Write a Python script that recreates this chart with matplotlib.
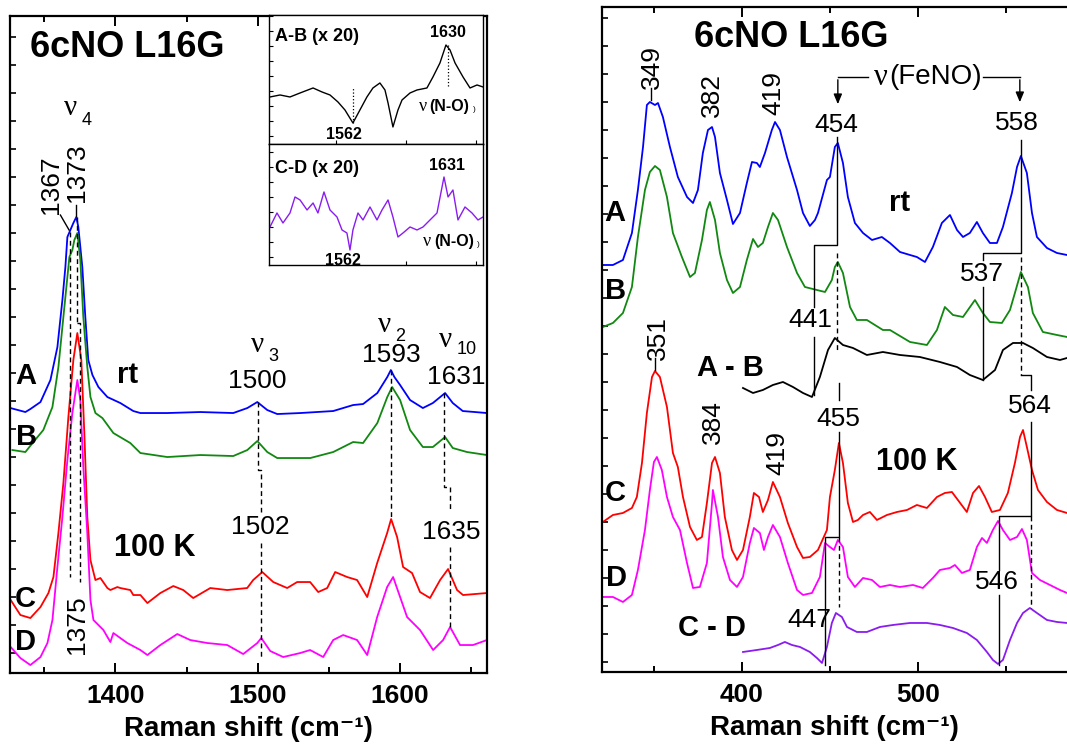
import matplotlib
matplotlib.use("Agg")
import matplotlib.pyplot as plt

plt.rcParams["font.family"] = ["Liberation Sans", "DejaVu Sans"]

BLUE, GREEN, RED, MAG, PURP = "#0000ff", "#118811", "#ff0000", "#ff00ff", "#8a1cf0"
SERIF = ["Liberation Serif", "DejaVu Serif"]

# ── left panel : high frequency region (cm-1 / intensity a.u.) ─────────────
hfA_x = [1326.3, 1336.8, 1340.3, 1347.4, 1354.4, 1359.3, 1362.8, 1364.9, 1366.3, 1368.4,
         1370.5, 1372.6, 1374.0, 1376.8, 1378.9, 1381.0, 1383.9, 1388.1, 1394.4, 1403.5,
         1412.6, 1417.6, 1436.5, 1459.7, 1482.8, 1492.7, 1499.7, 1506.7, 1513.7, 1529.9,
         1553.0, 1567.0, 1574.0, 1584.0, 1591.0, 1593.5, 1596.0, 1600.0, 1607.0, 1616.0,
         1623.0, 1631.6, 1637.0, 1644.0, 1661.0]
hfA_y = [265, 261, 264, 271, 293, 326, 373, 406, 436, 443,
         450, 456, 446, 406, 356, 313, 298, 286, 276, 270,
         262, 260, 260, 261, 260, 265, 271, 263, 259, 260,
         262, 268, 269, 280, 296, 303, 296, 288, 273, 265,
         270, 280, 270, 262, 260]

hfB_x = [1327.7, 1336.8, 1342.4, 1349.4, 1355.8, 1360.0, 1363.5, 1366.3, 1367.7, 1369.8,
         1371.2, 1373.3, 1375.4, 1377.5, 1380.3, 1382.5, 1386.0, 1390.9, 1398.6, 1410.5,
         1417.6, 1436.5, 1459.7, 1482.8, 1492.7, 1499.7, 1506.7, 1513.7, 1536.9, 1553.0,
         1567.0, 1574.0, 1584.0, 1591.0, 1594.4, 1600.0, 1607.0, 1616.0, 1623.0, 1631.6,
         1637.0, 1647.0, 1661.0]
hfB_y = [223, 221, 231, 243, 266, 306, 356, 396, 416, 423,
         433, 440, 413, 356, 306, 276, 260, 255, 240, 230,
         220, 216, 218, 217, 223, 232, 221, 215, 215, 221,
         231, 230, 250, 276, 286, 273, 243, 226, 226, 236,
         225, 221, 218]

hfC_x = [1326.5, 1333.3, 1340.3, 1347.4, 1353.0, 1356.5, 1360.0, 1363.5, 1367.0, 1370.5,
         1373.3, 1376.1, 1378.2, 1380.3, 1382.5, 1386.0, 1389.5, 1394.4, 1396.5, 1401.4,
         1403.5, 1410.5, 1412.6, 1417.6, 1422.5, 1431.6, 1440.7, 1447.7, 1454.7, 1466.7,
         1478.6, 1492.6, 1496.8, 1503.2, 1510.9, 1520.7, 1527.7, 1536.8, 1542.5, 1548.8,
         1554.4, 1562.8, 1569.8, 1576.9, 1583.9, 1590.9, 1593.7, 1597.9, 1602.1, 1608.4,
         1614.0, 1621.0, 1628.1, 1633.7, 1640.0, 1644.2, 1661.0]
hfC_y = [73, 58, 55, 66, 80, 96, 140, 190, 256, 313,
         340, 313, 240, 156, 113, 93, 95, 85, 83, 86,
         85, 83, 78, 78, 70, 80, 87, 83, 75, 85,
         83, 85, 93, 101, 91, 85, 91, 91, 81, 85,
         101, 96, 93, 76, 110, 140, 154, 136, 106, 100,
         81, 75, 93, 104, 83, 78, 80]

hfD_x = [1326.5, 1333.3, 1340.3, 1347.4, 1352.3, 1355.8, 1359.3, 1362.8, 1366.3, 1369.8,
         1373.3, 1375.4, 1377.5, 1380.3, 1382.5, 1384.6, 1388.1, 1391.6, 1396.5, 1398.6,
         1408.4, 1417.6, 1422.5, 1431.6, 1443.5, 1452.6, 1464.6, 1478.6, 1489.8, 1499.7,
         1502.5, 1508.8, 1517.9, 1529.8, 1536.8, 1546.0, 1553.0, 1560.0, 1569.8, 1576.9,
         1583.9, 1590.9, 1595.1, 1600.0, 1604.9, 1614.0, 1623.2, 1630.2, 1635.1, 1642.1,
         1651.2, 1661.0]
hfD_y = [26, 15, 8, 16, 30, 53, 106, 156, 213, 260,
         293, 273, 206, 140, 73, 53, 48, 43, 31, 40,
         30, 23, 18, 28, 39, 33, 30, 28, 19, 30,
         35, 22, 16, 20, 23, 16, 33, 38, 33, 18,
         56, 86, 96, 76, 56, 43, 23, 33, 46, 28,
         28, 33]

# insets, difference spectra x20
ab_x = [1502.7, 1509.9, 1517.0, 1524.2, 1533.5, 1539.9, 1545.6, 1551.3, 1556.3, 1562.0,
        1567.0, 1572.0, 1576.3, 1581.3, 1584.9, 1587.1, 1590.6, 1594.2, 1597.1, 1602.8,
        1607.8, 1614.9, 1619.2, 1624.2, 1628.5, 1631.4, 1635.0, 1640.7, 1645.7, 1650.7,
        1655.0]
ab_y = [47, 49, 47, 51, 56, 52, 49, 42, 34, 21,
        34, 47, 56, 61, 54, 41, 17, 34, 44, 51,
        54, 56, 67, 81, 99, 94, 81, 67, 56, 59,
        57]

cd_x = [1502.7, 1507.7, 1512.0, 1517.0, 1520.6, 1524.2, 1529.2, 1533.5, 1537.0, 1541.3,
        1545.6, 1550.6, 1554.2, 1557.7, 1559.9, 1562.0, 1565.6, 1569.2, 1574.2, 1579.2,
        1582.8, 1587.1, 1590.6, 1594.2, 1597.8, 1602.8, 1607.8, 1612.1, 1617.1, 1622.1,
        1625.7, 1627.1, 1630.0, 1633.5, 1637.1, 1642.1, 1647.1, 1651.4, 1655.0]
cd_y = [38, 52, 42, 52, 68, 65, 55, 62, 52, 73,
        55, 48, 35, 32, 15, 35, 52, 45, 58, 45,
        55, 65, 48, 28, 32, 38, 35, 38, 45, 52,
        78, 88, 68, 75, 45, 58, 52, 45, 48]

# ── right panel : low frequency region ─────────────────────────────────────
lfA_x = [321.0, 326.7, 332.4, 337.5, 340.9, 343.8, 346.0, 347.7, 350.6, 352.3,
         355.1, 359.1, 363.6, 368.8, 372.2, 375.0, 377.8, 380.7, 383.0, 384.7,
         387.5, 391.5, 394.9, 398.9, 402.8, 405.7, 408.5, 410.2, 413.1, 417.0,
         418.8, 421.6, 425.6, 431.3, 434.7, 438.6, 441.5, 443.2, 448.3, 450.0,
         452.8, 454.5, 457.4, 460.2, 464.2, 468.8, 473.9, 479.5, 484.1, 489.8,
         495.5, 499.4, 504.0, 508.5, 513.6, 518.2, 522.2, 525.6, 529.5, 533.5,
         536.9, 540.9, 544.9, 548.3, 553.4, 556.3, 558.5, 561.9, 564.8, 567.6,
         573.3, 579.0, 584.7]
lfA_y = [407, 407, 412, 439, 482, 525, 567, 570, 567, 569,
         555, 525, 495, 475, 469, 482, 519, 542, 545, 535,
         499, 472, 448, 459, 489, 510, 509, 505, 519, 542,
         550, 542, 515, 482, 459, 446, 452, 459, 492, 495,
         525, 529, 509, 475, 449, 439, 432, 435, 429, 420,
         417, 415, 410, 425, 449, 457, 442, 435, 439, 450,
         439, 429, 429, 445, 479, 505, 516, 499, 459, 435,
         424, 419, 417]

lfB_x = [321.0, 326.7, 332.4, 337.5, 340.9, 344.9, 347.7, 350.6, 353.4, 357.4,
         360.8, 365.9, 370.5, 373.3, 377.3, 380.1, 381.8, 384.7, 387.5, 391.5,
         394.9, 398.9, 402.8, 406.3, 409.1, 411.9, 414.8, 417.6, 420.5, 425.6,
         431.3, 435.8, 442.6, 447.2, 451.1, 452.8, 454.5, 457.4, 461.4, 465.3,
         471.0, 480.1, 484.1, 495.5, 505.1, 510.8, 515.3, 519.9, 525.6, 532.4,
         536.9, 540.9, 547.7, 552.3, 555.1, 558.5, 562.5, 565.3, 571.0, 579.0,
         584.7]
lfB_y = [345, 349, 359, 385, 435, 482, 500, 506, 502, 475,
         439, 415, 395, 399, 432, 462, 470, 452, 419, 392,
         379, 385, 412, 433, 425, 429, 445, 459, 452, 425,
         399, 385, 382, 380, 392, 405, 410, 399, 365, 352,
         352, 342, 342, 330, 327, 342, 365, 357, 355, 372,
         359, 350, 349, 362, 379, 400, 385, 359, 340, 337,
         335]

lfAB_x = [400.6, 406.3, 411.9, 417.6, 423.3, 429.0, 434.7, 439.8, 444.3, 448.9,
          452.8, 457.4, 463.1, 471.0, 480.1, 489.8, 501.1, 512.5, 522.2, 529.5,
          536.9, 543.8, 548.3, 554.0, 559.7, 565.3, 573.3, 580.7, 584.7]
lfAB_y = [284, 279, 282, 287, 290, 285, 279, 275, 295, 322,
          334, 327, 324, 317, 320, 317, 315, 310, 305, 297,
          292, 302, 322, 329, 329, 324, 315, 312, 314]

lfC_x = [321.0, 326.7, 332.4, 337.5, 340.3, 343.2, 346.0, 348.9, 350.6, 353.4,
         357.4, 360.8, 363.6, 366.5, 370.5, 374.4, 377.3, 380.1, 383.0, 384.7,
         387.5, 390.3, 394.3, 397.2, 400.6, 404.5, 406.8, 409.7, 411.9, 414.8,
         417.6, 421.6, 426.1, 431.3, 434.7, 438.6, 443.2, 448.3, 450.0, 452.8,
         455.1, 457.4, 460.2, 463.1, 465.9, 468.8, 472.7, 476.7, 482.4, 488.1,
         493.8, 499.4, 505.1, 510.8, 515.3, 519.3, 522.7, 527.8, 531.3, 534.7,
         538.1, 542.0, 546.6, 551.1, 555.1, 558.0, 559.7, 561.9, 564.8, 568.2,
         573.3, 579.0, 584.7]
lfC_y = [150, 157, 159, 164, 175, 209, 259, 295, 301, 295,
         265, 219, 205, 175, 145, 132, 135, 169, 209, 215,
         199, 155, 122, 112, 122, 155, 179, 175, 160, 172,
         190, 175, 149, 125, 114, 115, 122, 142, 175, 202,
         229, 209, 169, 150, 152, 157, 160, 152, 157, 160,
         162, 167, 164, 175, 179, 180, 172, 160, 179, 186,
         175, 160, 162, 179, 209, 235, 242, 225, 202, 182,
         170, 162, 159]

lfD_x = [321.0, 326.7, 332.4, 337.5, 340.9, 344.9, 347.7, 350.0, 351.7, 354.5,
         357.4, 360.8, 364.8, 368.8, 372.2, 376.1, 380.1, 383.0, 383.5, 386.4,
         389.2, 393.2, 397.2, 400.6, 404.5, 406.8, 410.2, 412.5, 414.8, 417.6,
         421.6, 426.1, 431.3, 434.7, 439.8, 444.3, 447.2, 450.0, 452.3, 454.5,
         457.4, 460.2, 464.2, 468.8, 473.9, 478.4, 484.1, 489.8, 497.2, 502.8,
         508.5, 512.5, 518.2, 521.0, 525.0, 529.5, 533.5, 536.4, 539.2, 542.6,
         545.5, 548.3, 552.3, 556.3, 559.1, 561.9, 564.8, 569.3, 575.0, 580.7,
         584.7]
lfD_y = [75, 75, 70, 77, 102, 142, 182, 210, 215, 202,
         175, 155, 142, 109, 84, 85, 109, 169, 182, 155,
         115, 92, 85, 95, 129, 144, 139, 122, 135, 147,
         135, 109, 82, 77, 79, 95, 129, 125, 122, 132,
         125, 95, 85, 94, 92, 85, 87, 85, 87, 84,
         94, 102, 104, 107, 99, 102, 125, 134, 129, 142,
         151, 142, 132, 135, 143, 132, 99, 92, 87, 82,
         79]

lfCD_x = [400.6, 408.5, 415.9, 420.5, 424.4, 428.4, 433.0, 438.6, 442.6, 445.5,
          448.3, 451.1, 453.4, 456.8, 459.7, 465.3, 471.0, 478.4, 485.8, 495.5,
          505.1, 512.5, 519.9, 527.8, 533.5, 539.2, 542.6, 545.5, 548.3, 552.3,
          556.3, 559.7, 563.6, 567.6, 573.3, 579.0, 584.7]
lfCD_y = [20, 22, 24, 27, 30, 27, 25, 20, 14, 9,
          25, 49, 59, 55, 45, 40, 40, 45, 47, 49,
          49, 47, 44, 39, 32, 20, 12, 8, 12, 32,
          49, 59, 64, 59, 52, 50, 49]

fig = plt.figure(figsize=(10.67, 7.53), dpi=100, facecolor="white")
axL = fig.add_axes([0.00937, 0.1062, 0.4470, 0.8725])
axR = fig.add_axes([0.5642, 0.1076, 0.4358, 0.8831])

LW = 1.3
DASH = dict(color="black", lw=1.0, ls=(0, (3.5, 2.5)))
SOLID = dict(color="black", lw=1.0)
NUM = dict(fontsize=19, ha="center", va="center")
BOLD = dict(fontsize=21, fontweight="bold", ha="center", va="center")


def nu(ax, x, y, sub, size=21, subsize=13, dx=8, dy=-8):
    ax.text(x, y, "\u03bd", family=SERIF, fontsize=size, ha="center", va="center")
    if sub:
        ax.annotate(sub, (x, y), xytext=(dx, dy), textcoords="offset points",
                    fontsize=subsize, ha="left", va="center")


def style(ax, major, minor):
    for s in ax.spines.values():
        s.set_linewidth(1.6)
    ax.set_xticks(major)
    ax.set_xticks(minor, minor=True)
    ax.tick_params(axis="x", which="both", direction="in", top=True, width=1.4)
    ax.tick_params(axis="x", which="major", length=7, labelsize=19, pad=8)
    ax.tick_params(axis="x", which="minor", length=4)
    for t in ax.get_xticklabels():
        t.set_fontweight("bold")
    ax.tick_params(axis="y", which="both", direction="in", length=4, width=1.2,
                   labelleft=False)
    ax.set_xlabel("Raman shift (cm\u207b\u00b9)", fontsize=20,
                  fontweight="bold", labelpad=6)


# ── left panel ──
ax = axL
ax.plot(hfA_x, hfA_y, color=BLUE, lw=LW)
ax.plot(hfB_x, hfB_y, color=GREEN, lw=LW)
ax.plot(hfC_x, hfC_y, color=RED, lw=LW)
ax.plot(hfD_x, hfD_y, color=MAG, lw=LW)
ax.set_xlim(1326, 1661)
ax.set_ylim(0, 657)
ax.set_yticks(range(20, 657, 28))
style(ax, [1400, 1500, 1600], [1350, 1450, 1550, 1650])

# guide lines
ax.plot([1368, 1368], [441, 96], **DASH)
ax.plot([1373, 1373], [456, 350], **DASH)
ax.plot([1373, 1375, 1375], [350, 350, 91], **DASH)
ax.plot([1500, 1500, 1502, 1502], [271, 203, 203, 161], **DASH)
ax.plot([1502, 1502], [130, 16], **DASH)
ax.plot([1593.5, 1593.5], [303, 154], **DASH)
ax.plot([1631, 1631, 1635, 1635], [280, 186, 186, 163], **DASH)
ax.plot([1635, 1635], [126, 46], **DASH)
ax.plot([1361.4, 1367.5], [458, 443], **SOLID)
ax.plot([1372.6, 1372.6], [468, 457], **SOLID)

ax.text(1340, 626, "6cNO L16G", fontsize=26, fontweight="bold", ha="left", va="center")
nu(ax, 1368.4, 565, "4", dx=8, dy=-9)
ax.text(1355.1, 488, "1367", rotation=90, **NUM)
ax.text(1373.3, 500, "1373", rotation=90, **NUM)
ax.text(1373.3, 48, "1375", rotation=90, **NUM)
nu(ax, 1500, 328, "3")
ax.text(1499.7, 292, "1500", **NUM)
nu(ax, 1589, 348, "2")
ax.text(1593.5, 318, "1593", **NUM)
nu(ax, 1632, 333, "10", dy=-7)
ax.text(1639.4, 296, "1631", **NUM)
ax.text(1502, 146, "1502", **NUM)
ax.text(1636, 141, "1635", **NUM)
ax.text(1337, 297, "A", **BOLD)
ax.text(1337.5, 236, "B", **BOLD)
ax.text(1337, 74, "C", **BOLD)
ax.text(1337, 31, "D", **BOLD)
ax.text(1408.4, 298, "rt", **BOLD)
ax.text(1428, 125, "100 K", fontsize=22, fontweight="bold", ha="center", va="center")

# insets
for pos, xs, ys, col, top in [([0.2521, 0.8088, 0.2006, 0.1713], ab_x, ab_y, "black", 129),
                              ([0.2521, 0.6481, 0.2006, 0.1607], cd_x, cd_y, PURP, 121)]:
    ia = fig.add_axes(pos)
    ia.plot(xs, ys, color=col, lw=1.0)
    ia.set_xlim(1502, 1655)
    ia.set_ylim(0, top)
    ia.set_xticks([1550, 1600, 1650])
    ia.set_yticks(range(8, top, 15))
    ia.tick_params(which="both", direction="in", length=3, width=0.8,
                   labelbottom=False, labelleft=False)
    for s in ia.spines.values():
        s.set_linewidth(1.0)
    if col == "black":
        ia.plot([1562, 1562], [21, 57], color="black", lw=0.9, ls=":")
        ia.plot([1630, 1630], [99, 56], color="black", lw=0.9, ls=":")
        ia.text(1506, 107, "A-B (x 20)", fontsize=13, fontweight="bold", va="center")
        ia.text(1630, 111, "1630", fontsize=11.5, fontweight="bold", ha="center", va="center")
        ia.text(1555.6, 9, "1562", fontsize=11.5, fontweight="bold", ha="center", va="center")
        ia.text(1612, 37, "\u03bd", family=SERIF, fontsize=13, ha="center", va="center")
        ia.text(1631, 37, "(N-O)", fontsize=11.5, fontweight="bold", ha="center", va="center")
        ia.text(1648.5, 34, ")", fontsize=6, ha="center", va="center")
    else:
        ia.text(1506, 96, "C-D (x 20)", fontsize=13, fontweight="bold", va="center")
        ia.text(1629, 99, "1631", fontsize=11.5, fontweight="bold", ha="center", va="center")
        ia.text(1555, 4, "1562", fontsize=11.5, fontweight="bold", ha="center", va="center")
        ia.text(1615, 23, "\u03bd", family=SERIF, fontsize=13, ha="center", va="center")
        ia.text(1634.2, 23, "(N-O)", fontsize=11.5, fontweight="bold", ha="center", va="center")
        ia.text(1652, 20, ")", fontsize=6, ha="center", va="center")

# ── right panel ──
ax = axR
ax.plot(lfA_x, lfA_y, color=BLUE, lw=LW)
ax.plot(lfB_x, lfB_y, color=GREEN, lw=LW)
ax.plot(lfAB_x, lfAB_y, color="black", lw=LW)
ax.plot(lfC_x, lfC_y, color=RED, lw=LW)
ax.plot(lfD_x, lfD_y, color=MAG, lw=LW)
ax.plot(lfCD_x, lfCD_y, color=PURP, lw=LW)
ax.set_xlim(320.5, 584.7)
ax.set_ylim(0, 665)
ax.set_yticks(range(10, 665, 28))
ax.spines["right"].set_visible(False)
style(ax, [400, 500], [350, 450, 550])

# rt brackets
ax.plot([454, 454, 441, 441], [535, 427, 427, 365], **SOLID)
ax.plot([441, 441], [335, 277], **SOLID)
ax.plot([454, 454], [419, 322], **DASH)
ax.plot([558.5, 558.5, 537, 537], [532, 419, 419, 412], **SOLID)
ax.plot([537, 537], [385, 292], **SOLID)
ax.plot([558.5, 558.5], [415, 297], **DASH)
ax.plot([558.5, 564, 564], [297, 297, 282], **SOLID)
# 100 K brackets
ax.plot([455, 455], [289, 272], **SOLID)
ax.plot([455, 455, 447, 447], [240, 135, 135, 7], **SOLID)
ax.plot([455, 455], [135, 65], **DASH)
ax.plot([564, 564, 546, 546], [250, 156, 156, 102], **SOLID)
ax.plot([546, 546], [77, 7], **SOLID)
ax.plot([564, 564], [156, 64], **DASH)
ax.plot([348.3, 348.3], [584, 572], **SOLID)
ax.plot([350.6, 350.6], [314, 302], **SOLID)

# nu(FeNO) arrows
arw = dict(arrowstyle="-|>,head_width=0.25,head_length=0.6", color="black", lw=1.0)
ax.plot([471.6, 454.5], [595, 595], **SOLID)
ax.annotate("", xy=(454.5, 565), xytext=(454.5, 595), arrowprops=arw)
ax.plot([536.9, 557.9], [595, 595], **SOLID)
ax.annotate("", xy=(557.9, 567), xytext=(557.9, 595), arrowprops=arw)
ax.text(479, 595, "\u03bd", family=SERIF, fontsize=22, ha="center", va="center")
ax.text(510.2, 595, "(FeNO)", fontsize=20, ha="center", va="center")

ax.text(427.8, 635, "6cNO L16G", fontsize=26, fontweight="bold", ha="center", va="center")
ax.text(348.9, 605, "349", rotation=90, **NUM)
ax.text(383, 577, "382", rotation=90, **NUM)
ax.text(417.6, 579, "419", rotation=90, **NUM)
ax.text(453.4, 547, "454", **NUM)
ax.text(556.2, 549, "558", **NUM)
ax.text(438.6, 352, "441", **NUM)
ax.text(536.3, 398, "537", **NUM)
ax.text(352.3, 334, "351", rotation=90, **NUM)
ax.text(383.5, 250, "384", rotation=90, **NUM)
ax.text(419.9, 219, "419", rotation=90, **NUM)
ax.text(454.5, 253, "455", **NUM)
ax.text(563.6, 266, "564", **NUM)
ax.text(438.6, 52, "447", **NUM)
ax.text(544.8, 90, "546", **NUM)
ax.text(327.9, 459, "A", **BOLD)
ax.text(328.4, 381, "B", **BOLD)
ax.text(327.9, 179, "C", **BOLD)
ax.text(329, 94, "D", **BOLD)
ax.text(489.7, 469, "rt", **BOLD)
ax.text(393.2, 304, "A - B", **BOLD)
ax.text(383, 44, "C - D", **BOLD)
ax.text(499.4, 210, "100 K", fontsize=22, fontweight="bold", ha="center", va="center")

fig.savefig("out.png", dpi=100)
